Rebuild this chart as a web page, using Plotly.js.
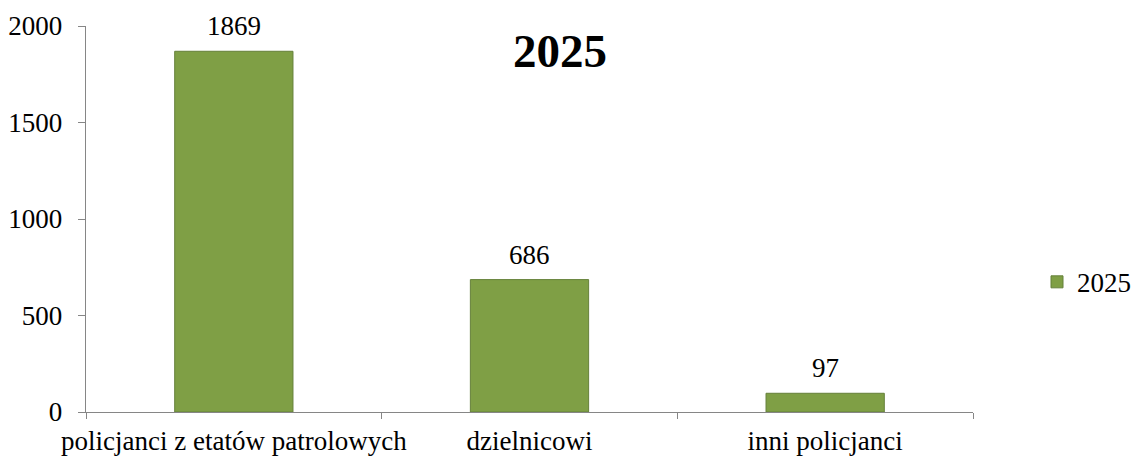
<!DOCTYPE html>
<html><head><meta charset="utf-8">
<script src="https://cdn.plot.ly/plotly-3.0.1.min.js"></script>
<style>html,body{margin:0;padding:0;background:#fff}#chart{width:1136px;height:459px}</style>
</head><body><div id="chart"></div>
<script>
const categories = ["policjanci z etatów patrolowych", "dzielnicowi", "inni policjanci"];
const values2025 = [1869, 686, 97];
const seriesName = "2025";
const yTicks = [0, 500, 1000, 1500, 2000];

const font = 'Liberation Serif, Times New Roman, serif';
const fs = 27;
const data = [{
  type: 'bar', x: categories, y: values2025, name: seriesName,
  marker: {color: '#7F9F45', line: {color: '#65803A', width: 1}},
  showlegend: true, hoverinfo: 'none'
}];
const labelAnns = categories.map((c, i) => ({
  x: c, y: values2025[i], xref: 'x', yref: 'y', text: String(values2025[i]),
  showarrow: false, yanchor: 'bottom', yshift: 8,
  font: {family: font, size: fs, color: '#000'}
}));
const layout = {
  width: 1136, height: 459,
  margin: {l: 86, r: 163, t: 26, b: 47},
  paper_bgcolor: '#fff', plot_bgcolor: '#fff',
  font: {family: font, size: fs, color: '#000'},
  bargap: 0.6,
  xaxis: {showline: true, linecolor: '#868686', linewidth: 1.3, ticks: 'outside', tickson: 'boundaries',
    ticklen: 6, tickcolor: '#868686', showgrid: false, tickfont: {family: font, size: fs, color: '#000'},
    zeroline: false, ticklabelstandoff: 4, tickangle: 0, automargin: false},
  yaxis: {range: [0, 2000], tickvals: yTicks, showline: true, linecolor: '#868686', linewidth: 1.3,
    ticks: 'outside', ticklen: 7, tickcolor: '#868686', showgrid: false, zeroline: false,
    tickfont: {family: font, size: fs, color: '#000'}, ticklabelstandoff: 10, automargin: false},
  showlegend: true,
  legend: {xref: 'container', yref: 'container', x: 1.003, y: 0.385, xanchor: 'right', yanchor: 'middle',
    font: {family: font, size: fs, color: '#000'}, itemwidth: 30, bgcolor: 'rgba(0,0,0,0)'},
  annotations: labelAnns.concat([{text: '<b>2025</b>', xref: 'paper', yref: 'paper', x: 0.534, y: 0.935,
    xanchor: 'center', yanchor: 'middle', showarrow: false, font: {family: font, size: 47, color: '#000'}}])
};
Plotly.newPlot('chart', data, layout, {displayModeBar: false, staticPlot: true});
</script></body></html>
